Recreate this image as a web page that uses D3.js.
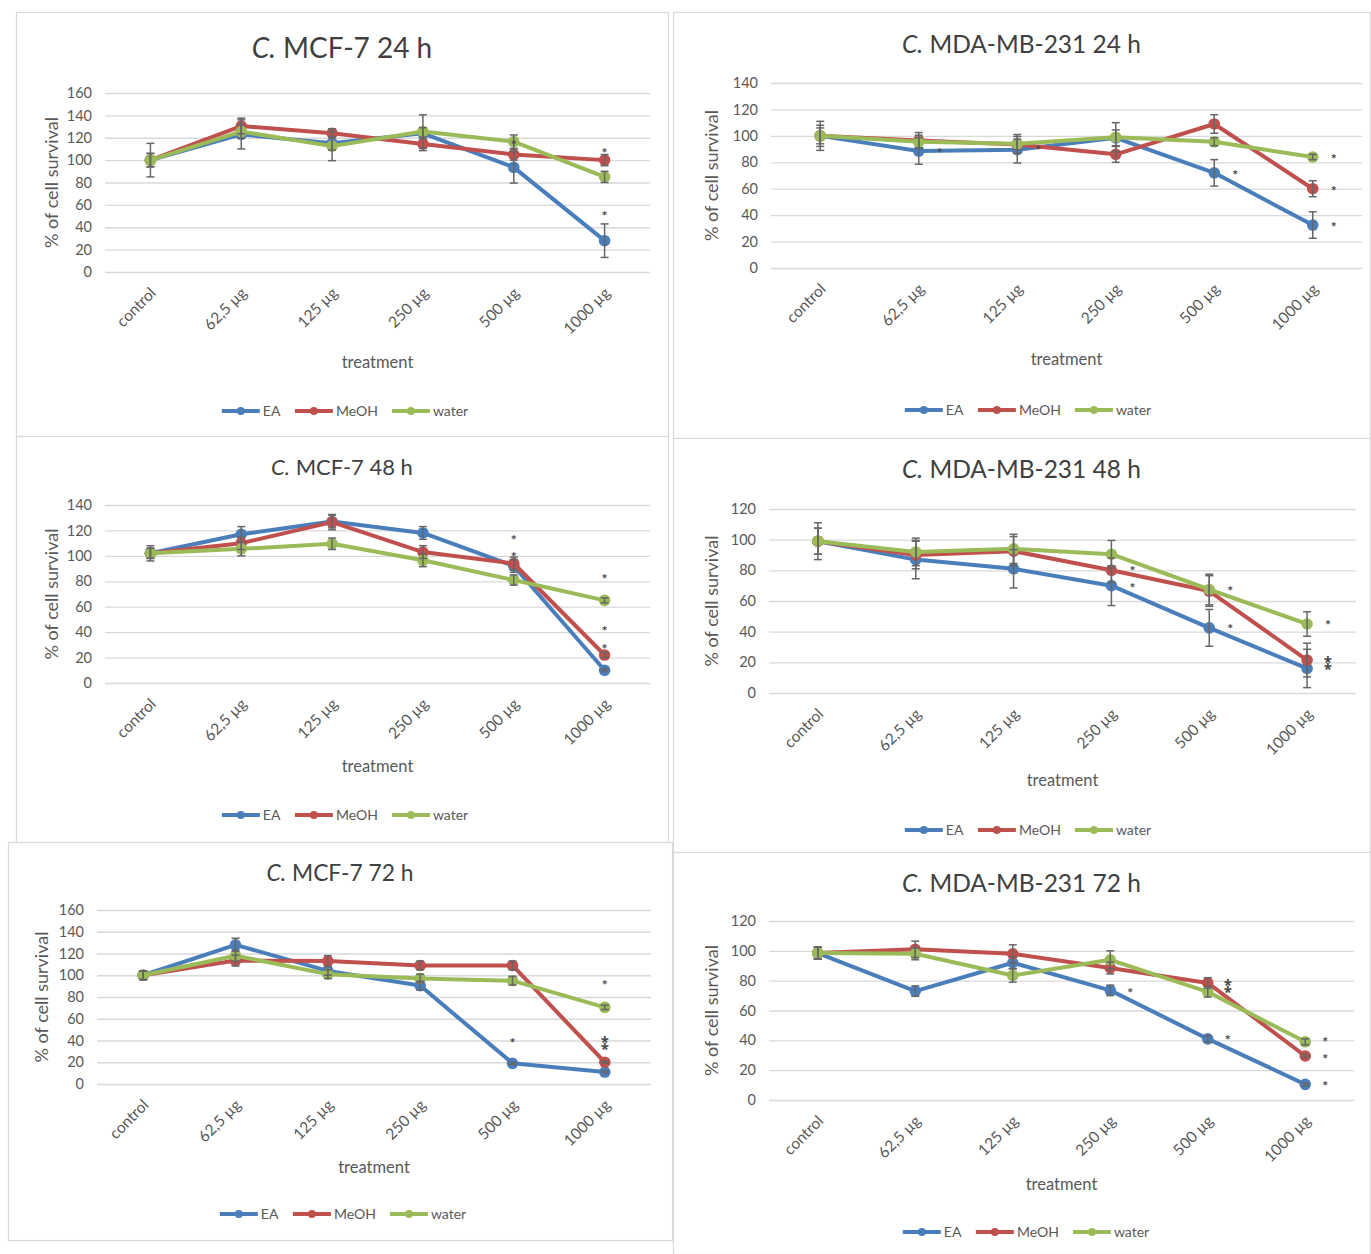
<!DOCTYPE html>
<html>
<head>
<meta charset="utf-8">
<script src="https://cdn.jsdelivr.net/npm/d3@7"></script>
<style>
  body { margin: 0; background: #fff; }
  svg text { font-family: Lato, "Open Sans", sans-serif; }
</style>
</head>
<body>
<svg id="chart" width="1371" height="1254"></svg>
<script>
// ---- shared categories and labels ----
const categories = ["control", "62,5 µg", "125 µg", "250 µg", "500 µg", "1000 µg"];
const seriesNames = ["EA", "MeOH", "water"];
const seriesColors = ["#4a7ebb", "#c0504d", "#9bbb59"];
const yTicks160 = [0, 20, 40, 60, 80, 100, 120, 140, 160];
const yTicks140 = [0, 20, 40, 60, 80, 100, 120, 140];
const yTicks120 = [0, 20, 40, 60, 80, 100, 120];

// ---- MCF-7 24 h ----
const mcf7_24h_ea       = [100, 123, 115, 124, 93.5, 28];
const mcf7_24h_meoh     = [100, 130.5, 124, 114.5, 105, 100];
const mcf7_24h_water    = [100, 125.5, 112.5, 125.5, 116.5, 85];
const mcf7_24h_ea_err   = [15, 13, 6, 5, 14, 15];
const mcf7_24h_meoh_err = [6, 7, 4, 6, 5, 5];
const mcf7_24h_water_err= [6, 6, 13, 15, 6, 5];
const mcf7_24h_sig      = [[4, 117], [5, 110], [5, 53]];

// ---- MDA-MB-231 24 h ----
const mda_24h_ea        = [100, 88.5, 89.5, 98.5, 72, 32.5];
const mda_24h_meoh      = [100, 96.5, 93.5, 86, 109, 60];
const mda_24h_water     = [100, 95.5, 94, 99, 95.5, 84];
const mda_24h_ea_err    = [11, 10, 10, 6, 10, 10];
const mda_24h_meoh_err  = [6, 6, 4, 6, 7, 6];
const mda_24h_water_err = [8, 5, 7, 11, 3, 2];
const mda_24h_sig       = [[1, 90], [2, 92], [4, 73.5], [5, 85.5], [5, 61], [5, 34]];

// ---- MCF-7 48 h ----
const mcf7_48h_ea       = [102, 117, 127, 118, 92, 10];
const mcf7_48h_meoh     = [102, 110, 126.5, 103, 94, 22];
const mcf7_48h_water    = [102, 105.5, 109.5, 96.5, 81, 65];
const mcf7_48h_ea_err   = [6, 6, 5, 5, 5, 1];
const mcf7_48h_meoh_err = [4, 5, 6, 5, 5, 2];
const mcf7_48h_water_err= [4, 5.5, 4.5, 5, 4, 2];
const mcf7_48h_sig      = [[4, 115.5], [4, 102], [5, 85], [5, 43.5], [5, 30]];

// ---- MDA-MB-231 48 h ----
const mda_48h_ea        = [99, 87, 81, 70, 42.5, 16];
const mda_48h_meoh      = [99, 90, 92.5, 80, 66.5, 21.5];
const mda_48h_water     = [99, 92, 94, 90.5, 67.5, 45];
const mda_48h_ea_err    = [12, 12.5, 12.5, 13, 12, 12.5];
const mda_48h_meoh_err  = [8.5, 9, 9.5, 8, 10, 11];
const mda_48h_water_err = [8.5, 9, 9.5, 9, 10, 8];
const mda_48h_sig       = [[3, 82], [3, 71], [4, 69], [4, 44], [5, 46.5], [5, 23.5], [5, 17.5]];

// ---- MCF-7 72 h ----
const mcf7_72h_ea       = [100, 128, 104, 90.5, 19, 11];
const mcf7_72h_meoh     = [100, 113.5, 113, 109, 109, 20];
const mcf7_72h_water    = [100, 118, 101, 97, 95, 70.5];
const mcf7_72h_ea_err   = [4, 6, 4, 4, 1, 1];
const mcf7_72h_meoh_err = [4, 5, 5, 4, 4, 1];
const mcf7_72h_water_err= [4, 5, 4, 4, 4, 2];
const mcf7_72h_sig      = [[4, 41], [5, 94.5], [5, 43], [5, 34]];

// ---- MDA-MB-231 72 h ----
const mda_72h_ea        = [98.5, 73, 92, 73.5, 41, 10.5];
const mda_72h_meoh      = [98.5, 101, 98, 88.5, 78.5, 29.5];
const mda_72h_water     = [98.5, 98, 83.5, 94, 72.5, 39];
const mda_72h_ea_err    = [4, 3.5, 4, 3.5, 2, 1];
const mda_72h_meoh_err  = [4, 5.5, 6, 4, 3.5, 1];
const mda_72h_water_err = [4, 4, 4.5, 6, 3.5, 2];
const mda_72h_sig       = [[3, 74.5], [4, 80], [4, 74.5], [4, 42.5], [5, 41.2], [5, 29.8], [5, 12]];

const panels = [
  { title: "MCF-7 24 h", ticks: yTicks160,
    values: [mcf7_24h_ea, mcf7_24h_meoh, mcf7_24h_water],
    errors: [mcf7_24h_ea_err, mcf7_24h_meoh_err, mcf7_24h_water_err], sig: mcf7_24h_sig },
  { title: "MDA-MB-231 24 h", ticks: yTicks140,
    values: [mda_24h_ea, mda_24h_meoh, mda_24h_water],
    errors: [mda_24h_ea_err, mda_24h_meoh_err, mda_24h_water_err], sig: mda_24h_sig },
  { title: "MCF-7 48 h", ticks: yTicks140,
    values: [mcf7_48h_ea, mcf7_48h_meoh, mcf7_48h_water],
    errors: [mcf7_48h_ea_err, mcf7_48h_meoh_err, mcf7_48h_water_err], sig: mcf7_48h_sig },
  { title: "MDA-MB-231 48 h", ticks: yTicks120,
    values: [mda_48h_ea, mda_48h_meoh, mda_48h_water],
    errors: [mda_48h_ea_err, mda_48h_meoh_err, mda_48h_water_err], sig: mda_48h_sig },
  { title: "MCF-7 72 h", ticks: yTicks160,
    values: [mcf7_72h_ea, mcf7_72h_meoh, mcf7_72h_water],
    errors: [mcf7_72h_ea_err, mcf7_72h_meoh_err, mcf7_72h_water_err], sig: mcf7_72h_sig },
  { title: "MDA-MB-231 72 h", ticks: yTicks120,
    values: [mda_72h_ea, mda_72h_meoh, mda_72h_water],
    errors: [mda_72h_ea_err, mda_72h_meoh_err, mda_72h_water_err], sig: mda_72h_sig }
];

// Page geometry for each chart box: frame, plot area and text placement.
const layout = [
  { frame: [16, 12, 652, 424],  x: [105, 650], y: [272, 93],  titleY: 48,  titleSize: 28,   yTitleX: 52,  xTitleDy: 90, legendDy: 139, legendX: 345,  sigDx: 0 },
  { frame: [673, 12, 697, 426], x: [771, 1362], y: [268, 83], titleY: 44,  titleSize: 24.5, yTitleX: 712, xTitleDy: 91, legendDy: 142, legendX: 1028, sigDx: 21 },
  { frame: [16, 436, 652, 406], x: [105, 650], y: [683, 505], titleY: 467, titleSize: 22,   yTitleX: 52,  xTitleDy: 83, legendDy: 132, legendX: 345,  sigDx: 0 },
  { frame: [673, 438, 697, 414], x: [769, 1356], y: [693, 509], titleY: 469, titleSize: 24.5, yTitleX: 712, xTitleDy: 87, legendDy: 137, legendX: 1028, sigDx: 21 },
  { frame: [8, 842, 664, 398],  x: [97, 651], y: [1084, 910], titleY: 873, titleSize: 22.8, yTitleX: 42,  xTitleDy: 83, legendDy: 130, legendX: 343,  sigDx: 0 },
  { frame: [673, 852, 697, 402], x: [769, 1354], y: [1100, 921], titleY: 883, titleSize: 24.5, yTitleX: 712, xTitleDy: 84, legendDy: 132, legendX: 1026, sigDx: 20 }
];

const svg = d3.select("#chart");
const textColor = "#595959";
const sigFont = 14;

panels.forEach((p, i) => {
  const L = layout[i];
  const g = svg.append("g");

  // chart box outline
  g.append("rect")
    .attr("x", L.frame[0] + 0.5).attr("y", L.frame[1] + 0.5)
    .attr("width", L.frame[2]).attr("height", L.frame[3])
    .attr("fill", "#fff").attr("stroke", "#d9d9d9").attr("stroke-width", 1.2);

  const x = d3.scalePoint().domain(categories).range(L.x).padding(0.5);
  const y = d3.scaleLinear().domain([0, d3.max(p.ticks)]).range(L.y);

  // horizontal gridlines + y tick labels
  const yAxis = d3.axisLeft(y).tickValues(p.ticks).tickSize(-(L.x[1] - L.x[0])).tickPadding(13);
  const ya = g.append("g").attr("transform", `translate(${L.x[0]},0)`).call(yAxis);
  ya.select(".domain").remove();
  ya.selectAll("line").attr("stroke", "#d9d9d9").attr("stroke-width", 1.3);
  ya.selectAll("text").attr("fill", textColor).attr("font-size", 14.5)
    .attr("font-family", "Lato, sans-serif");

  // category labels, rotated
  const xAxis = d3.axisBottom(x).tickSize(0).tickPadding(0);
  const xa = g.append("g").attr("transform", `translate(0,${L.y[0]})`).call(xAxis);
  xa.select(".domain").remove();
  xa.selectAll("text")
    .attr("fill", textColor).attr("font-size", 15.5).attr("font-family", "Lato, sans-serif")
    .attr("text-anchor", "end").attr("dy", null).attr("y", 0)
    .attr("transform", "translate(6,22) rotate(-45)");

  // title with italic genus initial
  const cx = (L.frame[0] + L.frame[0] + L.frame[2]) / 2;
  const t = g.append("text").attr("x", cx).attr("y", L.titleY).attr("dy", "0.35em")
    .attr("text-anchor", "middle").attr("font-size", L.titleSize).attr("fill", "#404040");
  t.append("tspan").attr("font-style", "italic").text("C.");
  t.append("tspan").text(" " + p.title);

  // axis titles
  g.append("text")
    .attr("transform", `translate(${L.yTitleX},${(L.y[0] + L.y[1]) / 2}) rotate(-90)`)
    .attr("text-anchor", "middle").attr("dy", "0.35em")
    .attr("font-size", 18).attr("fill", textColor).text("% of cell survival");
  g.append("text")
    .attr("x", (L.x[0] + L.x[1]) / 2).attr("y", L.y[0] + L.xTitleDy).attr("dy", "0.35em")
    .attr("text-anchor", "middle").attr("font-size", 16.5).attr("fill", textColor).text("treatment");

  // series lines and markers
  const line = d3.line().x((d, j) => x(categories[j])).y(d => y(d));
  p.values.forEach((vals, s) => {
    g.append("path").datum(vals).attr("d", line)
      .attr("fill", "none").attr("stroke", seriesColors[s]).attr("stroke-width", 4)
      .attr("stroke-linejoin", "round").attr("stroke-linecap", "round");
    g.selectAll(null).data(vals).enter().append("circle")
      .attr("cx", (d, j) => x(categories[j])).attr("cy", d => y(d)).attr("r", 5.8)
      .attr("fill", seriesColors[s]);
  });

  // error bars
  p.values.forEach((vals, s) => {
    const eb = g.append("g").attr("stroke", "#666").attr("stroke-width", 1.5);
    vals.forEach((v, j) => {
      const e = p.errors[s][j];
      const xc = x(categories[j]);
      const y1 = y(v + e), y2 = y(v - e);
      eb.append("line").attr("x1", xc).attr("x2", xc).attr("y1", y1).attr("y2", y2);
      eb.append("line").attr("x1", xc - 4).attr("x2", xc + 4).attr("y1", y1).attr("y2", y1);
      eb.append("line").attr("x1", xc - 4).attr("x2", xc + 4).attr("y1", y2).attr("y2", y2);
    });
  });

  // significance marks: asterisks that sit almost on top of each other in one
  // column are drawn as a single two-asterisk glyph
  const marks = [];
  d3.groups(p.sig, d => d[0]).forEach(([cat, list]) => {
    const pts = list.map(d => y(d[1])).sort((a, b) => a - b);
    for (let k = 0; k < pts.length; k++) {
      if (k + 1 < pts.length && pts[k + 1] - pts[k] < 12) {
        marks.push({ cat, py: (pts[k] + pts[k + 1]) / 2, glyph: "\u2051" });
        k++;
      } else {
        marks.push({ cat, py: pts[k], glyph: "*" });
      }
    }
  });
  g.selectAll(null).data(marks).enter().append("text")
    .attr("x", d => x(categories[d.cat]) + L.sigDx)
    .attr("y", d => d.py + (d.glyph === "*" ? 0.62 : 0.38) * sigFont)
    .attr("text-anchor", "middle")
    .attr("font-family", "'DejaVu Sans', sans-serif")
    .attr("font-weight", "bold")
    .attr("font-size", sigFont).attr("fill", "#4a4a4a")
    .text(d => d.glyph);

  // legend
  const lg = g.append("g");
  const items = lg.selectAll("g").data(seriesNames).enter().append("g");
  items.append("line").attr("x1", 0).attr("x2", 38).attr("y1", 0).attr("y2", 0)
    .attr("stroke", (d, s) => seriesColors[s]).attr("stroke-width", 4);
  items.append("circle").attr("cx", 19).attr("cy", 0).attr("r", 4)
    .attr("fill", (d, s) => seriesColors[s]);
  items.append("text").attr("x", 41).attr("dy", "0.35em")
    .attr("font-size", 14).attr("fill", textColor).text(d => d);
  let off = 0;
  items.each(function () {
    d3.select(this).attr("transform", `translate(${off},0)`);
    off += this.getBBox().width + 14;
  });
  const totalW = off - 14;
  lg.attr("transform", `translate(${L.legendX - totalW / 2},${L.y[0] + L.legendDy})`);
});
</script>
</body>
</html>
